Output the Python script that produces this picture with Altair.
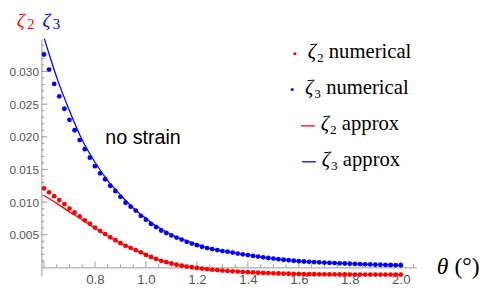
import altair as alt
import pandas as pd

# ---------------- data ----------------
theta_num = [0.60, 0.62, 0.64, 0.66, 0.68, 0.70, 0.72, 0.74, 0.76, 0.78,
             0.80, 0.82, 0.84, 0.86, 0.88, 0.90, 0.92, 0.94, 0.96, 0.98,
             1.00, 1.02, 1.04, 1.06, 1.08, 1.10, 1.12, 1.14, 1.16, 1.18,
             1.20, 1.22, 1.24, 1.26, 1.28, 1.30, 1.32, 1.34, 1.36, 1.38,
             1.40, 1.42, 1.44, 1.46, 1.48, 1.50, 1.52, 1.54, 1.56, 1.58,
             1.60, 1.62, 1.64, 1.66, 1.68, 1.70, 1.72, 1.74, 1.76, 1.78,
             1.80, 1.82, 1.84, 1.86, 1.88, 1.90, 1.92, 1.94, 1.96, 1.98, 2.00]

zeta2_num = [0.0121, 0.0115, 0.0109, 0.0103, 0.0097, 0.0090, 0.0084, 0.0078, 0.0072, 0.0067,
             0.0061, 0.0056, 0.0051, 0.0046, 0.00415, 0.0037, 0.0033, 0.0030, 0.00265, 0.0023,
             0.0019, 0.0016, 0.0013, 0.0010, 0.0008, 0.0006, 0.0004, 0.00025, 0.00012, 0.00002,
             -0.00008, -0.00018, -0.00027, -0.00035, -0.00042, -0.00049, -0.00055, -0.0006, -0.00065, -0.0007,
             -0.00074, -0.00078, -0.00082, -0.00085, -0.00088, -0.00091, -0.00094, -0.00096, -0.00098, -0.0010,
             -0.00102, -0.00103, -0.00104, -0.00105, -0.00106, -0.00107, -0.00108, -0.00108, -0.00109, -0.00109,
             -0.0011, -0.0011, -0.0011, -0.0011, -0.0011, -0.0011, -0.0011, -0.0011, -0.0011, -0.0011, -0.0011]

zeta3_num = [0.0326, 0.0303, 0.0281, 0.0262, 0.0243, 0.0226, 0.0210, 0.0195, 0.0181, 0.0168,
             0.0155, 0.0144, 0.0135, 0.0125, 0.0117, 0.0108, 0.0099, 0.0093, 0.0087, 0.0079,
             0.0073, 0.00666, 0.00617, 0.00565, 0.00526, 0.0049, 0.00456, 0.00426, 0.00391, 0.00365,
             0.0034, 0.00316, 0.00295, 0.0028, 0.00265, 0.0025, 0.0024, 0.00226, 0.00211, 0.0020,
             0.00188, 0.00176, 0.00165, 0.00154, 0.00144, 0.00134, 0.00125, 0.00117, 0.00109, 0.00101,
             0.00095, 0.0009, 0.00085, 0.00081, 0.00077, 0.00073, 0.00069, 0.00066, 0.00062, 0.00059,
             0.00056, 0.00053, 0.0005, 0.00047, 0.00045, 0.00042, 0.0004, 0.00038, 0.00036, 0.00034, 0.00032]

theta_line = [0.60, 0.65, 0.70, 0.75, 0.80, 0.85, 0.90, 0.95, 1.00, 1.05,
              1.10, 1.15, 1.20, 1.25, 1.30, 1.35, 1.40, 1.45, 1.50, 1.55,
              1.60, 1.65, 1.70, 1.75, 1.80, 1.85, 1.90, 1.95, 2.00]

zeta2_approx = [0.0110, 0.0098, 0.0085, 0.0073, 0.0060, 0.0048, 0.0037, 0.0028, 0.0019, 0.00115,
                0.0006, 0.00018, -0.00008, -0.0003, -0.00049, -0.0006, -0.00072, -0.0008, -0.00088, -0.00094,
                -0.00099, -0.00103, -0.00105, -0.00107, -0.00108, -0.00109, -0.0011, -0.0011, -0.0011]

zeta3_approx = [0.0352, 0.0291, 0.0240, 0.0195, 0.0161, 0.0133, 0.0111, 0.0091, 0.0075, 0.0061,
                0.0050, 0.0042, 0.0035, 0.0029, 0.0025, 0.0022, 0.0019, 0.0016, 0.00134, 0.00113,
                0.00095, 0.00083, 0.00073, 0.00064, 0.00056, 0.00048, 0.00042, 0.00037, 0.00032]

x_tick_labels = [0.8, 1.0, 1.2, 1.4, 1.6, 1.8, 2.0]
x_major_ticks = [0.6, 0.8, 1.0, 1.2, 1.4, 1.6, 1.8, 2.0]
x_minor_ticks = [0.65, 0.7, 0.75, 0.85, 0.9, 0.95, 1.05, 1.1, 1.15, 1.25, 1.3, 1.35,
                 1.45, 1.5, 1.55, 1.65, 1.7, 1.75, 1.85, 1.9, 1.95, 2.05]
y_tick_labels = [0.005, 0.010, 0.015, 0.020, 0.025, 0.030]
y_minor_ticks = [0.001, 0.002, 0.003, 0.004, 0.006, 0.007, 0.008, 0.009,
                 0.011, 0.012, 0.013, 0.014, 0.016, 0.017, 0.018, 0.019,
                 0.021, 0.022, 0.023, 0.024, 0.026, 0.027, 0.028, 0.029,
                 0.031, 0.032, 0.033, 0.034]

legend_words = ["numerical", "numerical", "approx", "approx"]
legend_subs = ["2", "3", "2", "3"]
legend_kinds = ["dot", "dot", "line", "line"]
legend_colors = ["#ff0000", "#0000ff", "#ff0000", "#0000ff"]

# ---------------- chart ----------------
OX, OY = 42, 37          # page position of the plot origin
W, H = 381, 241
X_DOM = [0.59, 2.06]
Y_DOM = [-0.0013, 0.035]
RED, BLUE, GREY = "#ff0000", "#0000ff", "#999999"

xs = alt.Scale(domain=X_DOM, nice=False, zero=False)
ys = alt.Scale(domain=Y_DOM, nice=False, zero=False)
zero_offset = -(0 - Y_DOM[0]) / (Y_DOM[1] - Y_DOM[0]) * H

num_df = pd.concat([
    pd.DataFrame({"theta": theta_num, "zeta": zeta2_num, "s": "z2"}),
    pd.DataFrame({"theta": theta_num, "zeta": zeta3_num, "s": "z3"}),
])
line_df = pd.concat([
    pd.DataFrame({"theta": theta_line, "zeta": zeta2_approx, "s": "z2"}),
    pd.DataFrame({"theta": theta_line, "zeta": zeta3_approx, "s": "z3"}),
])
color = alt.Color("s:N", scale=alt.Scale(domain=["z2", "z3"], range=[RED, BLUE]), legend=None)

base_axes = alt.Chart(pd.DataFrame({"theta": [X_DOM[0]], "zeta": [0.0]})).mark_point(opacity=0).encode(
    x=alt.X("theta:Q", scale=xs, axis=alt.Axis(
        values=x_tick_labels, format=".1f", title=None, ticks=False, grid=False,
        domainColor=GREY, labelColor="#555555", labelFontSize=13.5, labelFont="Liberation Sans",
        labelPadding=5, offset=zero_offset)),
    y=alt.Y("zeta:Q", scale=ys, axis=alt.Axis(
        values=y_tick_labels, format=".3f", title=None, ticks=False, grid=False,
        domainColor=GREY, labelColor="#555555", labelFontSize=12, labelFont="Liberation Sans",
        labelPadding=3)),
)

ytick_major = alt.Chart(pd.DataFrame({"v": y_tick_labels})).mark_rule(color=GREY, strokeWidth=1).encode(
    y=alt.Y("v:Q", scale=ys), x=alt.value(0), x2=alt.value(6))
ytick_minor = alt.Chart(pd.DataFrame({"v": y_minor_ticks})).mark_rule(color=GREY, strokeWidth=1).encode(
    y=alt.Y("v:Q", scale=ys), x=alt.value(0), x2=alt.value(3))
xtick_major = alt.Chart(pd.DataFrame({"v": x_major_ticks})).mark_rule(color=GREY, strokeWidth=1).encode(
    x=alt.X("v:Q", scale=xs), y=alt.datum(0.0, scale=ys), y2=alt.datum(0.0009))
xtick_minor = alt.Chart(pd.DataFrame({"v": x_minor_ticks})).mark_rule(color=GREY, strokeWidth=1).encode(
    x=alt.X("v:Q", scale=xs), y=alt.datum(0.0, scale=ys), y2=alt.datum(0.00045))

lines = alt.Chart(line_df).mark_line(strokeWidth=1.3, interpolate="monotone", clip=True).encode(
    x=alt.X("theta:Q", scale=xs), y=alt.Y("zeta:Q", scale=ys), color=color, detail="s:N")
dots = alt.Chart(num_df).mark_circle(size=24, opacity=1).encode(
    x=alt.X("theta:Q", scale=xs), y=alt.Y("zeta:Q", scale=ys), color=color)


def txt(s, px, py, size, col="black", font="Liberation Serif", style="normal"):
    # px, py: page coordinates of the text's left end / baseline
    return alt.Chart(pd.DataFrame({"t": [s]})).mark_text(
        align="left", baseline="alphabetic", fontSize=size, font=font, fontStyle=style, color=col
    ).encode(text="t:N", x=alt.value(px - OX), y=alt.value(py - OY))


ann = []
# header zeta_2 zeta_3
ann.append(txt("ζ", 17, 25, 20, RED, style="italic"))
ann.append(txt("2", 27.5, 27, 15, RED))
ann.append(txt("ζ", 43, 25, 20, BLUE, style="italic"))
ann.append(txt("3", 53.5, 27, 15, BLUE))
# theta label
ann.append(txt("θ", 444, 276, 24, style="italic"))
ann.append(txt("(°)", 462, 276, 24))
# no strain
ann.append(txt("no strain", 107, 144, 20, font="Liberation Sans"))

# legend
row_zx = [312.7, 310, 326, 327]
row_base = [56.7, 93, 129.5, 166]
for i in range(4):
    zx, yb = row_zx[i], row_base[i]
    c = legend_colors[i]
    ann.append(txt("ζ", zx, yb, 21, style="italic"))
    ann.append(txt(legend_subs[i], zx + 9.5, yb + 4, 13.5))
    ann.append(txt(legend_words[i], zx + 21.5, yb, 21))
    if legend_kinds[i] == "dot":
        ann.append(alt.Chart(pd.DataFrame({"k": [0]})).mark_circle(size=10, color=c, opacity=1).encode(
            x=alt.value(zx - 13 - OX), y=alt.value(yb - 4.5 - OY)))
    else:
        ann.append(alt.Chart(pd.DataFrame({"k": [0]})).mark_rule(color=c, strokeWidth=1.3).encode(
            x=alt.value(zx - 20 - OX), x2=alt.value(zx - 6 - OX), y=alt.value(yb - 4 - OY)))

chart = alt.layer(base_axes, ytick_minor, ytick_major, xtick_minor, xtick_major, lines, dots, *ann).properties(
    width=W, height=H, autosize="none",
    padding={"left": OX - 8, "top": OY - 8, "right": 490 - OX - W, "bottom": 12},
).configure_view(stroke=None)

chart.save("out.html", embed_options={"renderer": "svg", "actions": False})
